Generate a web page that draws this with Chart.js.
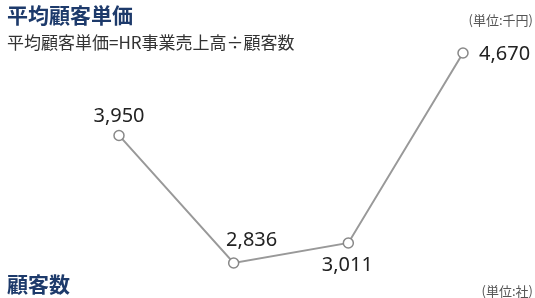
<!DOCTYPE html>
<html>
<head>
<meta charset="utf-8">
<script src="https://cdn.jsdelivr.net/npm/chart.js@4"></script>
<style>
    html, body { margin: 0; padding: 0; background: #fff; }
    #wrap { position: relative; width: 535px; height: 298px; overflow: hidden; }
    #wrap canvas { position: absolute; left: 0; top: 0; }
    .t { position: absolute; font-family: "Noto Sans CJK JP", sans-serif; white-space: nowrap; line-height: 1; }
    .title { font-size: 21px; font-weight: bold; color: #1d3a6b; left: 7px; }
    .sub { font-size: 17px; color: #333; left: 7px; top: 33px; }
    .unit { font-size: 13px; color: #555; right: 2px; }
</style>
</head>
<body>
<div id="wrap">
    <canvas id="priceChart" width="535" height="298"></canvas>
    <div class="t title" style="top:4px;">平均顧客単価</div>
    <div class="t sub">平均顧客単価=HR事業売上高÷顧客数</div>
    <div class="t unit" style="top:13px;">(単位:千円)</div>
    <div class="t title" style="top:273px;">顧客数</div>
    <div class="t unit" style="top:284px;">(単位:社)</div>
</div>
<script>
const years = ["1", "2", "3", "4"];
const avgPrice = [3950, 2836, 3011, 4670];

// label placement relative to each point: [dx, dy, align]
const labelPos = [[0, -13, "center"], [18, -17, "center"], [-1, 28, "center"], [16, 7, "left"]];

const pointLabels = {
    id: "pointLabels",
    afterDatasetsDraw(chart) {
        const ctx = chart.ctx;
        const meta = chart.getDatasetMeta(0);
        ctx.save();
        ctx.font = '20px "Noto Sans"';
        ctx.fillStyle = "#222";
        ctx.textBaseline = "alphabetic";
        meta.data.forEach((pt, i) => {
            const p = labelPos[i];
            ctx.textAlign = p[2];
            ctx.fillText(avgPrice[i].toLocaleString("en-US"), pt.x + p[0], pt.y + p[1]);
        });
        ctx.restore();
    }
};

new Chart(document.getElementById("priceChart"), {
    type: "line",
    data: {
        labels: years,
        datasets: [{
            data: avgPrice,
            borderColor: "#999",
            borderWidth: 2,
            pointRadius: 5,
            pointBorderWidth: 1.5,
            pointBorderColor: "#888",
            pointBackgroundColor: "#fff",
            tension: 0,
            clip: false
        }]
    },
    options: {
        responsive: false,
        animation: false,
        layout: { padding: { left: 119, right: 72, top: 53, bottom: 35 } },
        plugins: {
            legend: { display: false },
            tooltip: { enabled: false }
        },
        scales: {
            x: { display: false },
            y: { display: false, min: 2836, max: 4670 }
        }
    },
    plugins: [pointLabels]
});
</script>
</body>
</html>
